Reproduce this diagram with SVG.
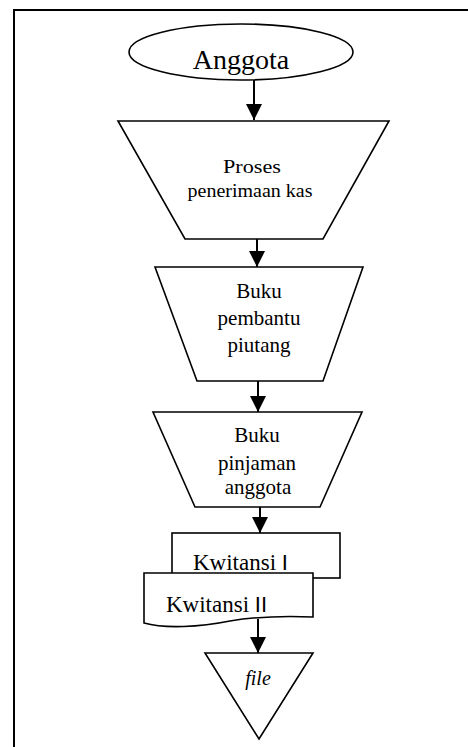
<svg xmlns="http://www.w3.org/2000/svg" width="468" height="747" viewBox="0 0 468 747">
<style>
.s{fill:#fff;stroke:#000;stroke-width:1.6}
.t{font-family:"Liberation Serif","Times New Roman",serif;fill:#000;text-anchor:middle}
.c{stroke:#000;stroke-width:2;fill:none}
</style>
<defs>
<marker id="ah" markerUnits="userSpaceOnUse" markerWidth="16" markerHeight="17" refX="16" refY="8" orient="auto" viewBox="0 0 16 16">
<path d="M0,0 L16,8 L0,16 Z" fill="#000"/>
</marker>
</defs>
<rect x="14" y="10" width="480" height="760" fill="#fff" stroke="#000" stroke-width="2"/>
<g id="connectors">
<line class="c" x1="254" y1="80" x2="254" y2="120" marker-end="url(#ah)"/>
<line class="c" x1="257" y1="239" x2="257" y2="267" marker-end="url(#ah)"/>
<line class="c" x1="258" y1="381" x2="258" y2="412" marker-end="url(#ah)"/>
<line class="c" x1="260" y1="507" x2="260" y2="533" marker-end="url(#ah)"/>
<line class="c" x1="258" y1="619" x2="258" y2="653" marker-end="url(#ah)"/>
</g>
<g id="anggota">
<ellipse class="s" cx="241" cy="52" rx="112" ry="28"/>
<text class="t" x="241" y="69" font-size="28">Anggota</text>
</g>
<g id="proses">
<polygon class="s" points="118,121 389,121 323,239 185,239"/>
<text class="t" x="252" y="173" font-size="18" textLength="58" lengthAdjust="spacingAndGlyphs">Proses</text>
<text class="t" x="250" y="197" font-size="18" textLength="125" lengthAdjust="spacingAndGlyphs">penerimaan kas</text>
</g>
<g id="buku-pembantu">
<polygon class="s" points="155,267 363,267 323,381 197,381"/>
<text class="t" x="259" y="298" font-size="21">Buku</text>
<text class="t" x="259" y="325" font-size="21">pembantu</text>
<text class="t" x="259" y="352" font-size="21">piutang</text>
</g>
<g id="buku-pinjaman">
<polygon class="s" points="153,412 362,412 320,507 195,507"/>
<text class="t" x="257" y="442" font-size="21">Buku</text>
<text class="t" x="257" y="470" font-size="21">pinjaman</text>
<text class="t" x="258" y="494" font-size="21">anggota</text>
</g>
<g id="kwitansi-1">
<rect class="s" x="172" y="533" width="168" height="45"/>
<text class="t" x="193" y="570" font-size="23" style="text-anchor:start">Kwitansi <tspan font-family="Liberation Sans, Arial, sans-serif" font-size="22">I</tspan></text>
</g>
<g id="kwitansi-2">
<path class="s" d="M144,573 H313 V617 C290,616 260,616 230,621 C200,627 165,629 144,623 Z"/>
<text class="t" x="166" y="612" font-size="23" style="text-anchor:start">Kwitansi <tspan font-family="Liberation Sans, Arial, sans-serif" font-size="22">II</tspan></text>
</g>
<g id="file">
<polygon class="s" points="205,653 313,653 259,739"/>
<text class="t" x="258" y="685" font-size="20" font-style="italic">file</text>
</g>
</svg>
